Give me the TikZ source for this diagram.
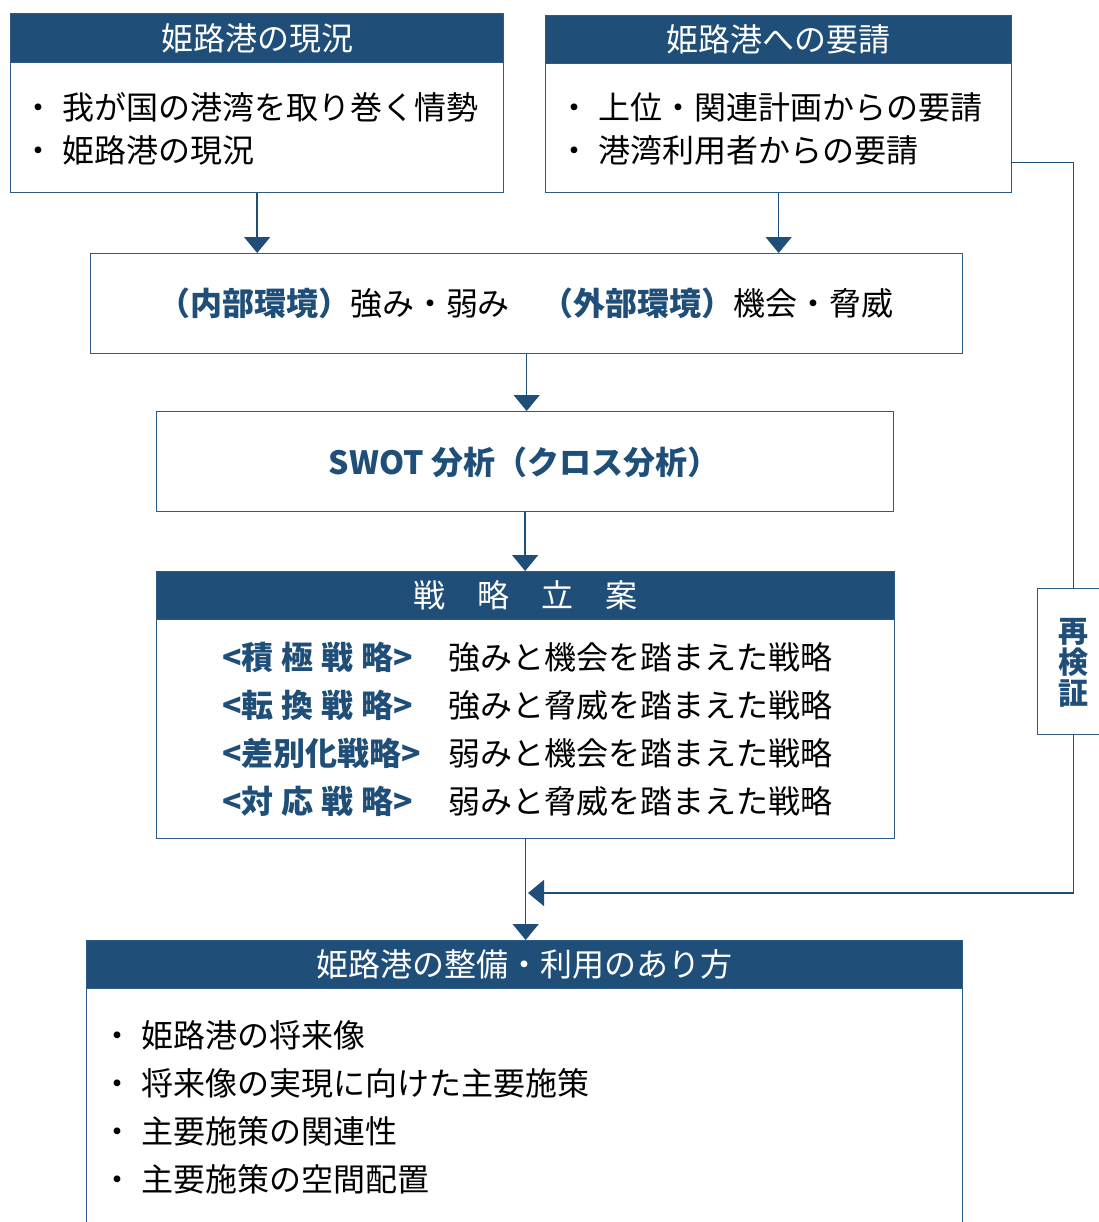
\documentclass[tikz,border=0pt]{standalone}
\usepackage{fontspec}
\setmainfont{Noto Sans CJK JP}
\usetikzlibrary{arrows.meta,calc}
\definecolor{hdr}{HTML}{1F4E79}
\definecolor{bord}{HTML}{2E5A88}
\definecolor{tblue}{HTML}{1F4E79}
\newcommand{\mybul}{\llap{・\kern6pt}}
\tikzset{
  hdrbox/.style={fill=hdr, draw=bord, line width=1pt, anchor=north west, inner sep=0pt},
  bodybox/.style={draw=bord, line width=1pt, anchor=north west, inner sep=0pt, fill=white},
  hdrtext/.style={text=white, font=\fontsize{24}{28}\selectfont, anchor=base, inner sep=0pt},
  bodytext/.style={text=black, font=\fontsize{24}{28}\selectfont, anchor=base west, inner sep=0pt},
  bluetext/.style={text=tblue, font=\fontsize{24}{28}\selectfont\bfseries, anchor=base west, inner sep=0pt},
  conn/.style={draw=hdr, line width=1.1pt},
  arr/.style={conn, -{Triangle[width=19.5pt,length=12pt]}},
}
\begin{document}
\begin{tikzpicture}[x=0.75pt,y=-0.75pt]
\useasboundingbox (0,0) rectangle (1099,1222);
\clip (0,0) rectangle (1099,1222);

% box 1
\node[bodybox, minimum width=369.75pt, minimum height=97.5pt] (b1) at (10,62) {};
\node[hdrbox, minimum width=369.75pt, minimum height=36.75pt] (h1) at (10,13) {};
\node[hdrtext] (h1t) at ($(h1.center)+(0,12)$) {姫路港の現況};
\node[bodytext] (b1a) at (62,119) {\mybul 我が国の港湾を取り巻く情勢};
\node[bodytext] (b1b) at (62,162) {\mybul 姫路港の現況};

% box 2
\node[bodybox, minimum width=349.5pt, minimum height=96.75pt] (b2) at (545,63) {};
\node[hdrbox, minimum width=349.5pt, minimum height=36pt] (h2) at (545,15) {};
\node[hdrtext] (h2t) at ($(h2.center)+(0,12)$) {姫路港への要請};
\node[bodytext] (b2a) at (598,119) {\mybul 上位・関連計画からの要請};
\node[bodytext] (b2b) at (598,162) {\mybul 港湾利用者からの要請};

% box 3
\node[bodybox, minimum width=654pt, minimum height=75pt] (b3) at (90,253) {};
\node[bodytext, anchor=base] (b3t) at (526,315) {{\color{tblue}\bfseries （内部環境）}強み・弱み　{\color{tblue}\bfseries （外部環境）}機会・脅威};

% box 4
\node[bodybox, minimum width=552.75pt, minimum height=75pt] (b4) at (156,411) {};
\node[bluetext, anchor=base] (b4t) at (524,474) {SWOT 分析（クロス分析）};

% box 5
\node[bodybox, minimum width=553.5pt, minimum height=164.25pt] (b5) at (156,619) {};
\node[hdrbox, minimum width=553.5pt, minimum height=36pt] (h5) at (156,571) {};
\node[hdrtext] (h5t) at ($(h5.center)+(0,12)$) {戦　略　立　案};
\node[bluetext] (s1) at (222,669) {\makebox[143pt][l]{<積\hfill 極\hfill 戦\hfill 略>}};
\node[bluetext] (s2) at (222,717) {\makebox[143pt][l]{<転\hfill 換\hfill 戦\hfill 略>}};
\node[bluetext] (s3) at (222,765) {\makebox[143pt][l]{<差\hfill 別\hfill 化\hfill 戦\hfill 略>}};
\node[bluetext] (s4) at (222,813) {\makebox[143pt][l]{<対\hfill 応\hfill 戦\hfill 略>}};
\node[bodytext] (r1) at (448,669) {強みと機会を踏まえた戦略};
\node[bodytext] (r2) at (448,717) {強みと脅威を踏まえた戦略};
\node[bodytext] (r3) at (448,765) {弱みと機会を踏まえた戦略};
\node[bodytext] (r4) at (448,813) {弱みと脅威を踏まえた戦略};

% box 6
\node[bodybox, minimum width=657pt, minimum height=189pt] (b6) at (86,988) {};
\node[hdrbox, minimum width=657pt, minimum height=36pt] (h6) at (86,940) {};
\node[hdrtext] (h6t) at ($(h6.center)+(0,12)$) {姫路港の整備・利用のあり方};
\node[bodytext] (b6a) at (141,1047) {\mybul 姫路港の将来像};
\node[bodytext] (b6b) at (141,1095) {\mybul 将来像の実現に向けた主要施策};
\node[bodytext] (b6c) at (141,1143) {\mybul 主要施策の関連性};
\node[bodytext] (b6d) at (141,1191) {\mybul 主要施策の空間配置};

% verify box
\node[bodybox, minimum width=54pt, minimum height=109.5pt] (verify) at (1037,588) {};
\node[text=tblue, font=\fontsize{22.5}{23.5}\selectfont\bfseries, align=center, inner sep=0pt] (verifyt) at (1073,663) {再\\検\\証};

% connectors
\draw[arr] (b1.south) -- (b1.south |- b3.north);
\draw[arr] (b2.south) -- (b2.south |- b3.north);
\draw[arr] (b3.south) -- (b3.south |- b4.north);
\draw[arr] (b4.south) -- (b4.south |- h5.north);
\draw[arr] (b5.south) -- (b5.south |- h6.north);
\coordinate (fbstart) at ($(b2.south east)+(0,-31)$);
\coordinate (fbtip) at (528,893);
\draw[conn] (fbstart) -| (verify.north);
\draw[arr] (verify.south) |- (fbtip);
\end{tikzpicture}
\end{document}
